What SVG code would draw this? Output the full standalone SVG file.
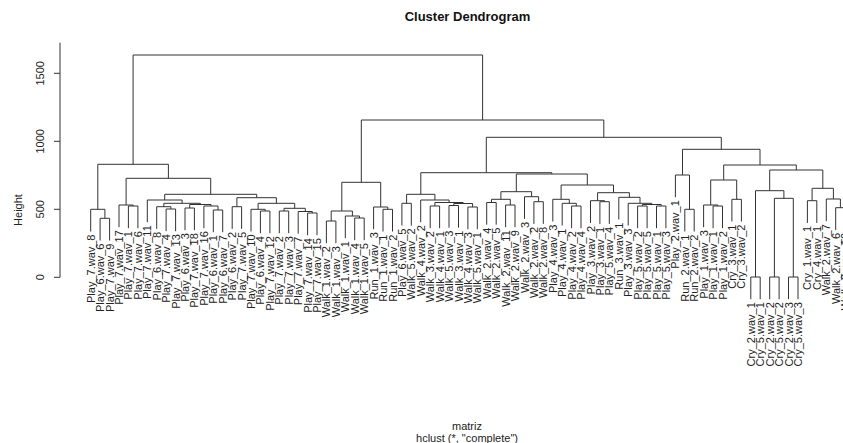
<svg xmlns="http://www.w3.org/2000/svg" width="843" height="443" viewBox="0 0 843 443">
<style>
.ln{fill:none;stroke:#333;stroke-width:1}
.lb{font-family:"Liberation Sans",Arial,sans-serif;font-size:11px;text-anchor:end;fill:#222}
.ax{font-family:"Liberation Sans",Arial,sans-serif;font-size:11px;text-anchor:middle;fill:#222}
</style>
<rect width="843" height="443" fill="#fff"/>
<text x="467.5" y="21" style="font-family:'Liberation Sans',Arial,sans-serif;font-size:13px;font-weight:bold;text-anchor:middle;fill:#111">Cluster Dendrogram</text>
<g id="axis">
<path class="ln" d="M60 42.7V277.3M54 277.3H60M54 209.3H60M54 141.3H60M54 73.3H60"/>
<text class="ax" transform="translate(44,277.3) rotate(-90)">0</text>
<text class="ax" transform="translate(44,209.3) rotate(-90)">500</text>
<text class="ax" transform="translate(44,141.3) rotate(-90)">1000</text>
<text class="ax" transform="translate(44,73.3) rotate(-90)">1500</text>
<text class="ax" transform="translate(22,210) rotate(-90)">Height</text>
</g>
<text class="ax" x="467" y="430">matriz</text>
<text class="ax" x="467" y="442">hclust (*, "complete")</text>
<g id="connectors" class="ln">
<path d="M100.1 240.5V218.3H109.6V240.5"/>
<path d="M90.7 231.5V209.3H104.9V218.3"/>
<path d="M128.4 228.2V206H137.9V228.2"/>
<path d="M119 227.2V205H133.2V206"/>
<path d="M166.1 231.2V209H175.6V231.2"/>
<path d="M156.7 228.9V206.7H170.9V209"/>
<path d="M185 230.2V208H194.4V230.2"/>
<path d="M213.3 232.2V210H222.7V232.2"/>
<path d="M203.9 228.2V206H218V210"/>
<path d="M189.7 208V204.5H211V206"/>
<path d="M163.8 206.7V203.3H200.4V204.5"/>
<path d="M147.3 222.2V200H182.1V203.3"/>
<path d="M232.2 228.9V206.7H241.6V228.9"/>
<path d="M260.4 233.2V211H269.9V233.2"/>
<path d="M251 231.5V209.3H265.2V211"/>
<path d="M279.3 233.2V211H288.7V233.2"/>
<path d="M307.6 235.2V213H317V235.2"/>
<path d="M298.2 233.7V211.5H312.3V213"/>
<path d="M284 211V208.3H305.3V211.5"/>
<path d="M258.1 209.3V203.3H294.7V208.3"/>
<path d="M236.9 206.7V197.7H276.4V203.3"/>
<path d="M164.7 200V194.3H256.7V197.7"/>
<path d="M126.1 205V178.3H210.7V194.3"/>
<path d="M97.8 209.3V164.3H168.4V178.3"/>
<path d="M326.4 243.2V221H335.9V243.2"/>
<path d="M354.7 240.2V218H364.2V240.2"/>
<path d="M345.3 238.2V216H359.5V218"/>
<path d="M331.2 221V211H352.4V216"/>
<path d="M383 231.5V209.3H392.5V231.5"/>
<path d="M373.6 229.2V207H387.8V209.3"/>
<path d="M341.8 211V182.3H380.7V207"/>
<path d="M401.9 225.5V203.3H411.3V225.5"/>
<path d="M430.2 228.2V206H439.6V228.2"/>
<path d="M449 227.7V205.5H458.5V227.7"/>
<path d="M467.9 229.2V207H477.3V229.2"/>
<path d="M453.8 205.5V203.5H472.6V207"/>
<path d="M434.9 206V202.5H463.2V203.5"/>
<path d="M420.7 222.2V200H449.1V202.5"/>
<path d="M406.6 203.3V194.3H434.9V200"/>
<path d="M486.7 224.7V202.5H496.2V224.7"/>
<path d="M505.6 227.2V205H515V227.2"/>
<path d="M491.5 202.5V199.3H510.3V205"/>
<path d="M533.9 223.9V201.7H543.3V223.9"/>
<path d="M524.5 218.9V196.7H538.6V201.7"/>
<path d="M500.9 199.3V191.7H531.6V196.7"/>
<path d="M571.6 228.2V206H581V228.2"/>
<path d="M562.2 225.5V203.3H576.3V206"/>
<path d="M552.8 221.5V199.3H569.3V203.3"/>
<path d="M599.9 223.9V201.7H609.3V223.9"/>
<path d="M590.5 222.9V200.7H604.6V201.7"/>
<path d="M637.6 228.2V206H647.1V228.2"/>
<path d="M656.5 228.2V206H665.9V228.2"/>
<path d="M642.4 206V204.5H661.2V206"/>
<path d="M628.2 225.5V203.3H651.8V204.5"/>
<path d="M618.8 219.5V197.3H640V203.3"/>
<path d="M597.6 200.7V192.7H629.4V197.3"/>
<path d="M561.1 199.3V185H613.5V192.7"/>
<path d="M516.3 191.7V174H587.3V185"/>
<path d="M420.8 194.3V172.7H551.8V174"/>
<path d="M684.8 231.5V209.3H694.2V231.5"/>
<path d="M675.4 197.2V175H689.5V209.3"/>
<path d="M713.1 228.2V206H722.5V228.2"/>
<path d="M703.6 227.2V205H717.8V206"/>
<path d="M731.9 221.5V199.3H741.4V221.5"/>
<path d="M710.7 205V180H736.7V199.3"/>
<path d="M750.8 299.2V277H760.2V299.2"/>
<path d="M769.7 299.2V277H779.1V299.2"/>
<path d="M788.5 299.2V277H798V299.2"/>
<path d="M774.4 277V198.3H793.3V277"/>
<path d="M755.5 277V190.7H783.9V198.3"/>
<path d="M807.4 222.9V200.7H816.8V222.9"/>
<path d="M835.7 229.9V207.7H845.1V229.9"/>
<path d="M826.3 221.2V199H840.4V207.7"/>
<path d="M812.1 200.7V188.3H833.4V199"/>
<path d="M769.7 190.7V170H822.8V188.3"/>
<path d="M723.7 180V165H796.3V170"/>
<path d="M682.5 175V149.3H760V165"/>
<path d="M486.3 172.7V137.3H721.3V149.3"/>
<path d="M361.3 182.3V120H603.8V137.3"/>
<path d="M133.1 164.3V55H482.6V120"/>
</g>
<g id="leaf-1"><text class="lb" transform="translate(94.7,234.5) rotate(-90)">Play_7.wav_8</text></g>
<g id="leaf-2"><text class="lb" transform="translate(104.1,243.5) rotate(-90)">Play_6.wav_6</text></g>
<g id="leaf-3"><text class="lb" transform="translate(113.6,243.5) rotate(-90)">Play_7.wav_9</text></g>
<g id="leaf-4"><text class="lb" transform="translate(123,230.2) rotate(-90)">Play_7.wav_17</text></g>
<g id="leaf-5"><text class="lb" transform="translate(132.4,231.2) rotate(-90)">Play_7.wav_1</text></g>
<g id="leaf-6"><text class="lb" transform="translate(141.9,231.2) rotate(-90)">Play_7.wav_6</text></g>
<g id="leaf-7"><text class="lb" transform="translate(151.3,225.2) rotate(-90)">Play_7.wav_11</text></g>
<g id="leaf-8"><text class="lb" transform="translate(160.7,231.9) rotate(-90)">Play_6.wav_8</text></g>
<g id="leaf-9"><text class="lb" transform="translate(170.1,234.2) rotate(-90)">Play_7.wav_4</text></g>
<g id="leaf-10"><text class="lb" transform="translate(179.6,234.2) rotate(-90)">Play_7.wav_13</text></g>
<g id="leaf-11"><text class="lb" transform="translate(189,233.2) rotate(-90)">Play_6.wav_3</text></g>
<g id="leaf-12"><text class="lb" transform="translate(198.4,233.2) rotate(-90)">Play_7.wav_18</text></g>
<g id="leaf-13"><text class="lb" transform="translate(207.9,231.2) rotate(-90)">Play_7.wav_16</text></g>
<g id="leaf-14"><text class="lb" transform="translate(217.3,235.2) rotate(-90)">Play_6.wav_1</text></g>
<g id="leaf-15"><text class="lb" transform="translate(226.7,235.2) rotate(-90)">Play_6.wav_7</text></g>
<g id="leaf-16"><text class="lb" transform="translate(236.2,231.9) rotate(-90)">Play_6.wav_2</text></g>
<g id="leaf-17"><text class="lb" transform="translate(245.6,231.9) rotate(-90)">Play_7.wav_5</text></g>
<g id="leaf-18"><text class="lb" transform="translate(255,234.5) rotate(-90)">Play_7.wav_10</text></g>
<g id="leaf-19"><text class="lb" transform="translate(264.4,236.2) rotate(-90)">Play_6.wav_4</text></g>
<g id="leaf-20"><text class="lb" transform="translate(273.9,236.2) rotate(-90)">Play_7.wav_12</text></g>
<g id="leaf-21"><text class="lb" transform="translate(283.3,236.2) rotate(-90)">Play_7.wav_2</text></g>
<g id="leaf-22"><text class="lb" transform="translate(292.7,236.2) rotate(-90)">Play_7.wav_3</text></g>
<g id="leaf-23"><text class="lb" transform="translate(302.2,236.7) rotate(-90)">Play_7.wav_7</text></g>
<g id="leaf-24"><text class="lb" transform="translate(311.6,238.2) rotate(-90)">Play_7.wav_14</text></g>
<g id="leaf-25"><text class="lb" transform="translate(321,238.2) rotate(-90)">Play_7.wav_15</text></g>
<g id="leaf-26"><text class="lb" transform="translate(330.4,246.2) rotate(-90)">Walk_1.wav_2</text></g>
<g id="leaf-27"><text class="lb" transform="translate(339.9,246.2) rotate(-90)">Walk_1.wav_3</text></g>
<g id="leaf-28"><text class="lb" transform="translate(349.3,241.2) rotate(-90)">Walk_1.wav_1</text></g>
<g id="leaf-29"><text class="lb" transform="translate(358.7,243.2) rotate(-90)">Walk_1.wav_4</text></g>
<g id="leaf-30"><text class="lb" transform="translate(368.2,243.2) rotate(-90)">Walk_1.wav_5</text></g>
<g id="leaf-31"><text class="lb" transform="translate(377.6,232.2) rotate(-90)">Run_1.wav_3</text></g>
<g id="leaf-32"><text class="lb" transform="translate(387,234.5) rotate(-90)">Run_1.wav_1</text></g>
<g id="leaf-33"><text class="lb" transform="translate(396.5,234.5) rotate(-90)">Run_1.wav_2</text></g>
<g id="leaf-34"><text class="lb" transform="translate(405.9,228.5) rotate(-90)">Play_6.wav_5</text></g>
<g id="leaf-35"><text class="lb" transform="translate(415.3,228.5) rotate(-90)">Walk_5.wav_2</text></g>
<g id="leaf-36"><text class="lb" transform="translate(424.7,225.2) rotate(-90)">Walk_4.wav_2</text></g>
<g id="leaf-37"><text class="lb" transform="translate(434.2,231.2) rotate(-90)">Walk_3.wav_2</text></g>
<g id="leaf-38"><text class="lb" transform="translate(443.6,231.2) rotate(-90)">Walk_4.wav_1</text></g>
<g id="leaf-39"><text class="lb" transform="translate(453,230.7) rotate(-90)">Walk_5.wav_3</text></g>
<g id="leaf-40"><text class="lb" transform="translate(462.5,230.7) rotate(-90)">Walk_3.wav_1</text></g>
<g id="leaf-41"><text class="lb" transform="translate(471.9,232.2) rotate(-90)">Walk_4.wav_3</text></g>
<g id="leaf-42"><text class="lb" transform="translate(481.3,232.2) rotate(-90)">Walk_5.wav_1</text></g>
<g id="leaf-43"><text class="lb" transform="translate(490.7,227.7) rotate(-90)">Walk_2.wav_4</text></g>
<g id="leaf-44"><text class="lb" transform="translate(500.2,227.7) rotate(-90)">Walk_2.wav_5</text></g>
<g id="leaf-45"><text class="lb" transform="translate(509.6,230.2) rotate(-90)">Walk_2.wav_11</text></g>
<g id="leaf-46"><text class="lb" transform="translate(519,230.2) rotate(-90)">Walk_2.wav_9</text></g>
<g id="leaf-47"><text class="lb" transform="translate(528.5,221.9) rotate(-90)">Walk_2.wav_3</text></g>
<g id="leaf-48"><text class="lb" transform="translate(537.9,226.9) rotate(-90)">Walk_2.wav_2</text></g>
<g id="leaf-49"><text class="lb" transform="translate(547.3,226.9) rotate(-90)">Walk_2.wav_8</text></g>
<g id="leaf-50"><text class="lb" transform="translate(556.8,224.5) rotate(-90)">Play_4.wav_3</text></g>
<g id="leaf-51"><text class="lb" transform="translate(566.2,228.5) rotate(-90)">Play_4.wav_1</text></g>
<g id="leaf-52"><text class="lb" transform="translate(575.6,231.2) rotate(-90)">Play_4.wav_2</text></g>
<g id="leaf-53"><text class="lb" transform="translate(585,231.2) rotate(-90)">Play_4.wav_4</text></g>
<g id="leaf-54"><text class="lb" transform="translate(594.5,225.9) rotate(-90)">Play_3.wav_2</text></g>
<g id="leaf-55"><text class="lb" transform="translate(603.9,226.9) rotate(-90)">Play_3.wav_1</text></g>
<g id="leaf-56"><text class="lb" transform="translate(613.3,226.9) rotate(-90)">Play_5.wav_4</text></g>
<g id="leaf-57"><text class="lb" transform="translate(622.8,222.5) rotate(-90)">Run_3.wav_1</text></g>
<g id="leaf-58"><text class="lb" transform="translate(632.2,228.5) rotate(-90)">Play_3.wav_3</text></g>
<g id="leaf-59"><text class="lb" transform="translate(641.6,231.2) rotate(-90)">Play_5.wav_2</text></g>
<g id="leaf-60"><text class="lb" transform="translate(651.1,231.2) rotate(-90)">Play_5.wav_5</text></g>
<g id="leaf-61"><text class="lb" transform="translate(660.5,231.2) rotate(-90)">Play_5.wav_1</text></g>
<g id="leaf-62"><text class="lb" transform="translate(669.9,231.2) rotate(-90)">Play_5.wav_3</text></g>
<g id="leaf-63"><text class="lb" transform="translate(679.4,200.2) rotate(-90)">Play_2.wav_1</text></g>
<g id="leaf-64"><text class="lb" transform="translate(688.8,234.5) rotate(-90)">Run_2.wav_1</text></g>
<g id="leaf-65"><text class="lb" transform="translate(698.2,234.5) rotate(-90)">Run_2.wav_2</text></g>
<g id="leaf-66"><text class="lb" transform="translate(707.6,230.2) rotate(-90)">Play_1.wav_3</text></g>
<g id="leaf-67"><text class="lb" transform="translate(717.1,231.2) rotate(-90)">Play_1.wav_1</text></g>
<g id="leaf-68"><text class="lb" transform="translate(726.5,231.2) rotate(-90)">Play_1.wav_2</text></g>
<g id="leaf-69"><text class="lb" transform="translate(735.9,224.5) rotate(-90)">Cry_3.wav_1</text></g>
<g id="leaf-70"><text class="lb" transform="translate(745.4,224.5) rotate(-90)">Cry_3.wav_2</text></g>
<g id="leaf-71"><text class="lb" transform="translate(754.8,302.2) rotate(-90)">Cry_2.wav_1</text></g>
<g id="leaf-72"><text class="lb" transform="translate(764.2,302.2) rotate(-90)">Cry_5.wav_1</text></g>
<g id="leaf-73"><text class="lb" transform="translate(773.7,302.2) rotate(-90)">Cry_2.wav_2</text></g>
<g id="leaf-74"><text class="lb" transform="translate(783.1,302.2) rotate(-90)">Cry_5.wav_2</text></g>
<g id="leaf-75"><text class="lb" transform="translate(792.5,302.2) rotate(-90)">Cry_2.wav_3</text></g>
<g id="leaf-76"><text class="lb" transform="translate(802,302.2) rotate(-90)">Cry_5.wav_3</text></g>
<g id="leaf-77"><text class="lb" transform="translate(811.4,225.9) rotate(-90)">Cry_1.wav_1</text></g>
<g id="leaf-78"><text class="lb" transform="translate(820.8,225.9) rotate(-90)">Cry_4.wav_1</text></g>
<g id="leaf-79"><text class="lb" transform="translate(830.3,224.2) rotate(-90)">Walk_2.wav_7</text></g>
<g id="leaf-80"><text class="lb" transform="translate(839.7,232.9) rotate(-90)">Walk_2.wav_6</text></g>
<g id="leaf-81"><text class="lb" transform="translate(849.1,232.9) rotate(-90)">Walk_2.wav_10</text></g>
</svg>
